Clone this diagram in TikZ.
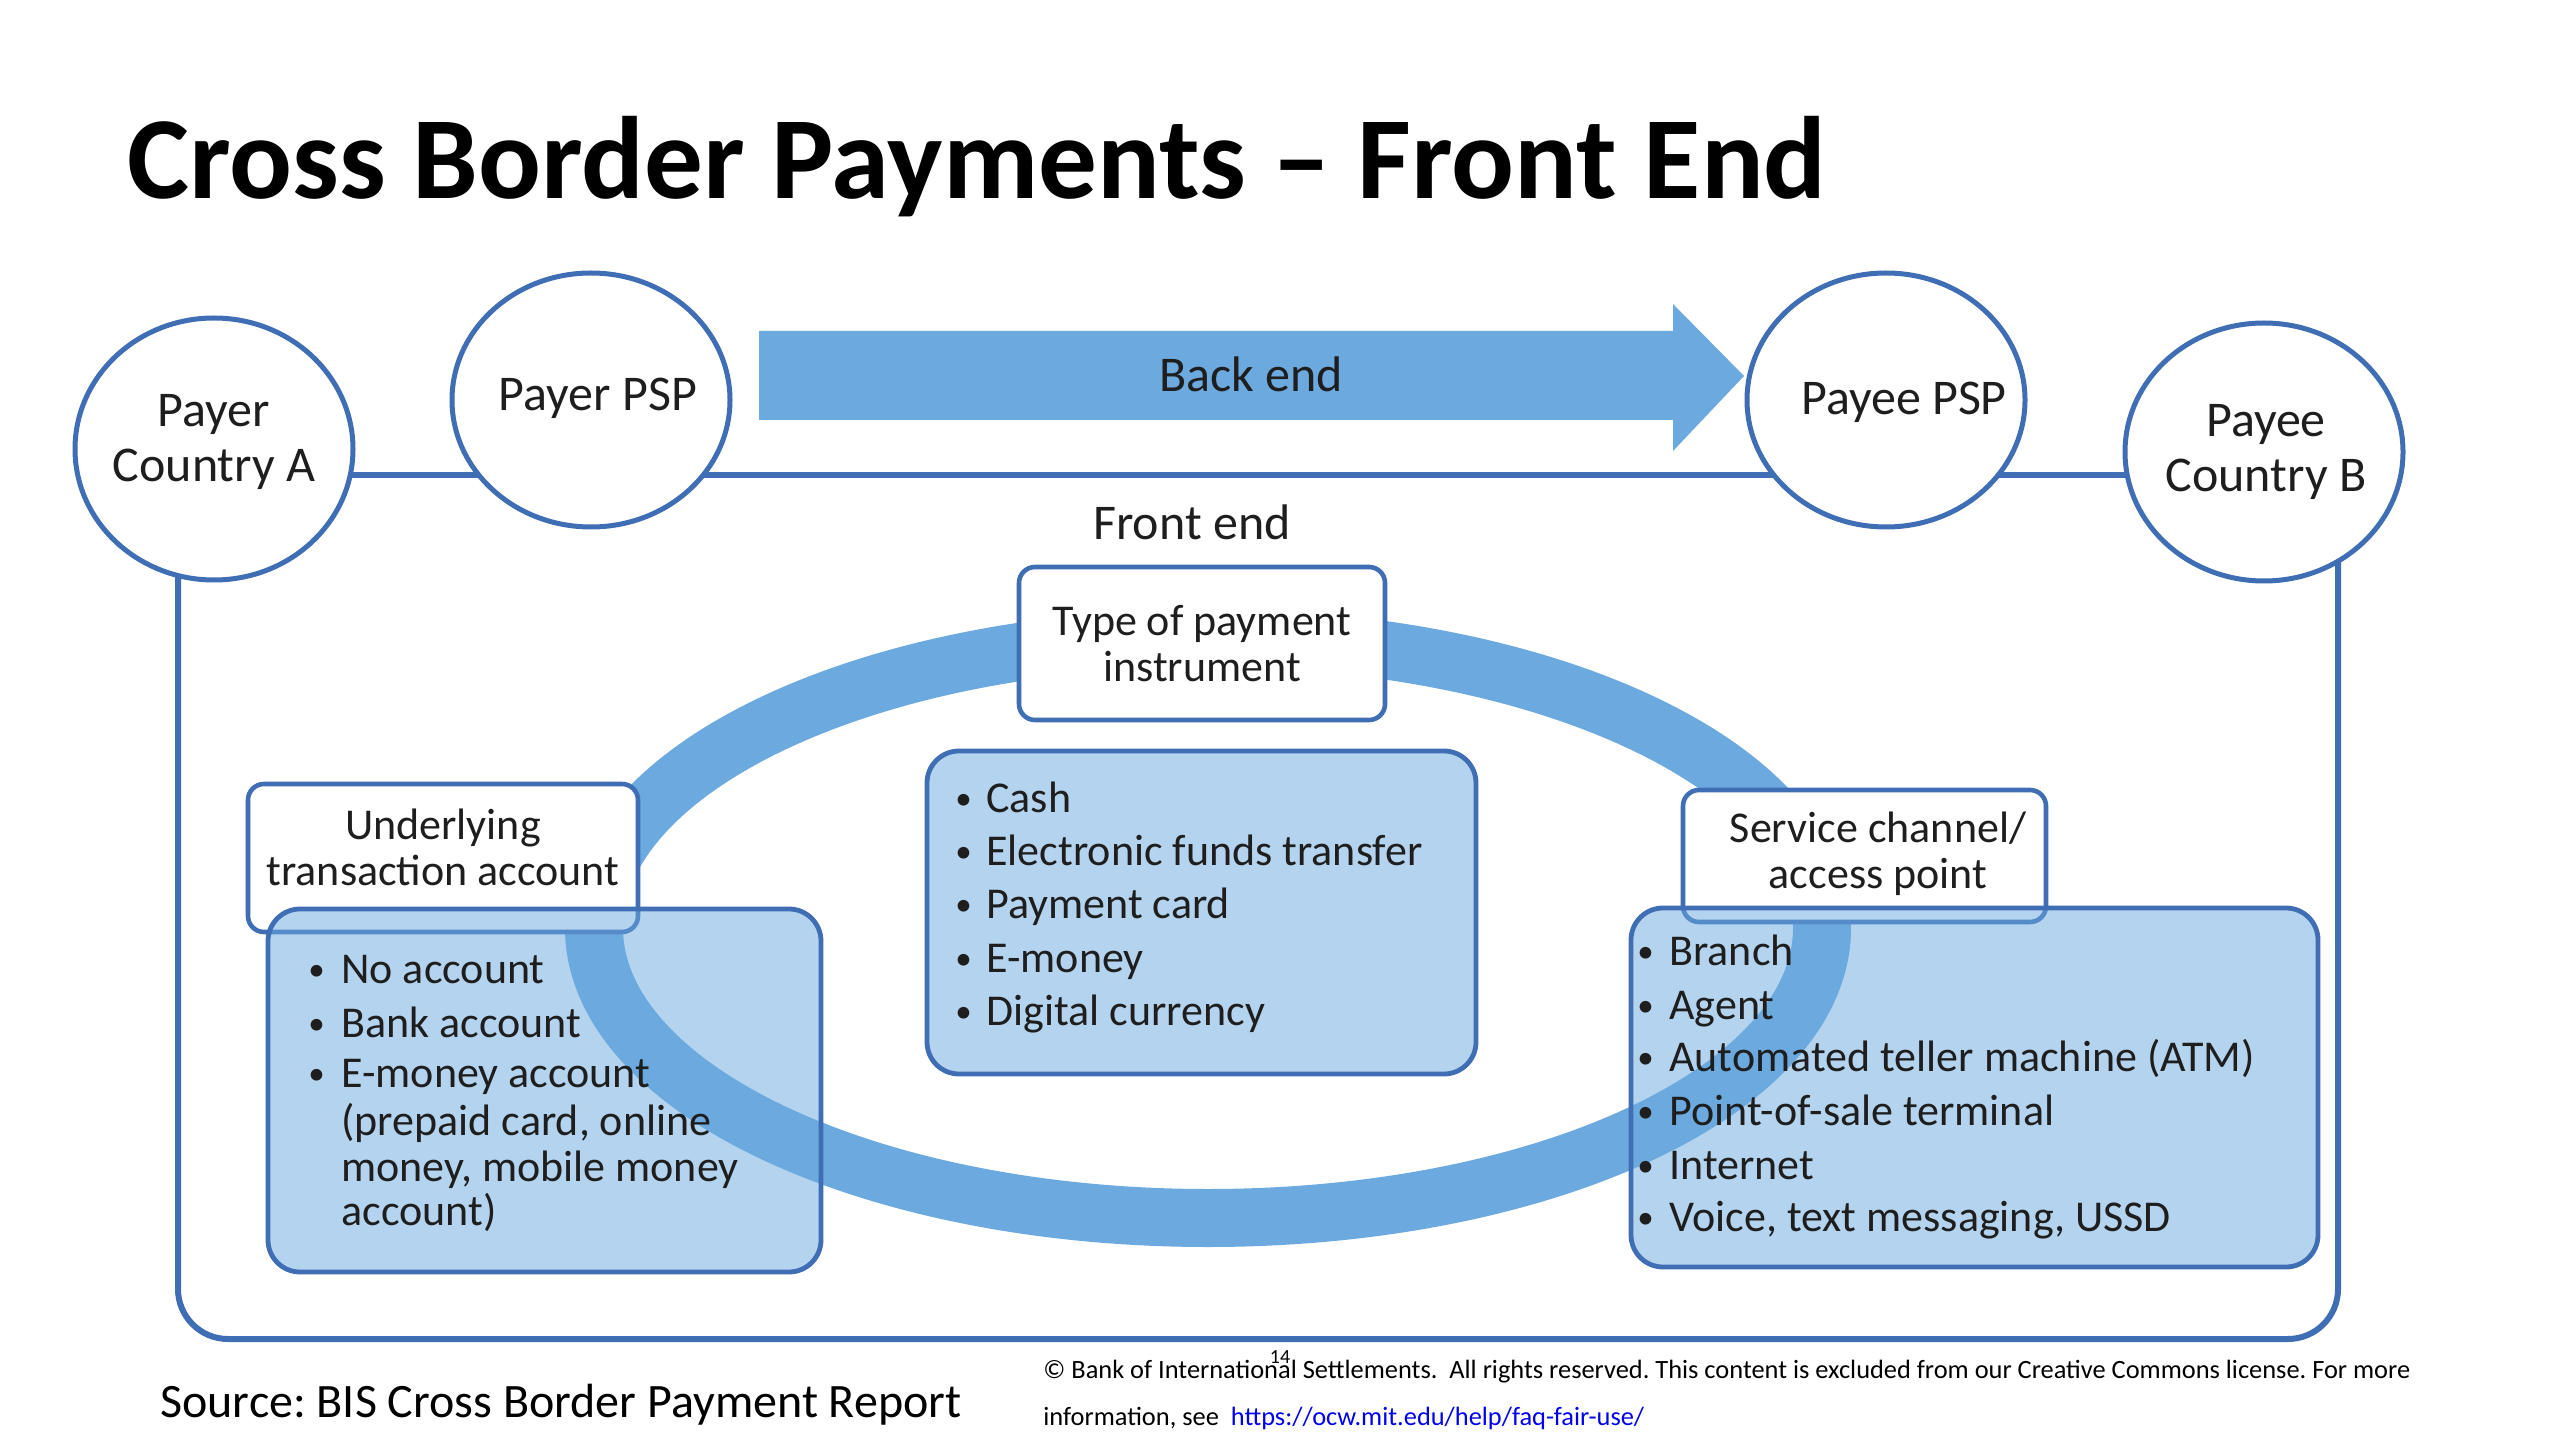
\documentclass[tikz,border=0pt]{standalone}
\usepackage{fontspec}
\setmainfont{Carlito}
\frenchspacing
\usetikzlibrary{shapes.geometric,backgrounds}
\definecolor{lineblue}{RGB}{64,110,180}
\definecolor{ringblue}{RGB}{107,169,223}
\definecolor{txt}{RGB}{30,30,30}
\definecolor{urlblue}{RGB}{0,0,238}
\newcommand{\listdot}[1]{\makebox[#1][l]{\raisebox{0.05em}{\scalebox{0.75}{\textbullet}}}}
\begin{document}
\begin{tikzpicture}[x=0.5pt,y=-0.5pt,
  party/.style={ellipse, draw=lineblue, line width=2.5pt, fill=white, inner sep=0pt},
  partytext/.style={text=txt, align=center, inner sep=0pt, font=\fontsize{25}{27.5}\selectfont},
  link/.style={draw=lineblue, line width=3pt},
  tagbox/.style={rectangle, rounded corners=8pt, draw=lineblue, line width=2.3pt, fill=white, inner sep=0pt},
  listbox/.style={rectangle, rounded corners=16pt, draw=lineblue, line width=2.4pt,
                  fill=ringblue, fill opacity=0.5, draw opacity=1, inner sep=0pt},
  tagtext/.style={text=txt, align=center, inner sep=0pt, font=\fontsize{22}{23}\selectfont},
  item/.style={text=txt, anchor=base west, inner sep=0pt, font=\fontsize{22}{26}\selectfont},
  note/.style={text=txt, anchor=base west, inner sep=0pt},
]
\useasboundingbox (0,0) rectangle (2560,1438);

% heading
\node[note, text=black, font=\fontsize{58.6}{58.6}\selectfont\bfseries] (title) at (127,199)
  {Cross Border Payments – Front End};

% thick ring of the front end
\draw[ringblue, line width=29pt] (1208,928) ellipse [x radius=614, y radius=290];

% parties
\node[party, minimum width=139pt, minimum height=131pt] (A) at (214,449) {};
\node[party, minimum width=139pt, minimum height=127pt] (PA) at (591,400) {};
\node[party, minimum width=139pt, minimum height=127pt] (PB) at (1886,400) {};
\node[party, minimum width=139pt, minimum height=129pt] (B) at (2264,452) {};
\node[partytext] (At) at (214,442) {Payer\\Country A};
\node[partytext] (PAt) at (598,398) {Payer PSP};
\node[partytext] (PBt) at (1904,402) {Payee PSP};
\node[partytext] (Bt) at (2266,452) {Payee\\Country B};

% white page, links and frame, all behind the parties
\coordinate (L) at (0,475);
\coordinate (FL) at (178,1339);
\coordinate (FR) at (2338,1339);
\begin{pgfonlayer}{background}
  \fill[white] (0,0) rectangle (2560,1438);
  \draw[link] (A.center |- L) -- (B.center |- L);
  \draw[link, rounded corners=25pt] (A.center -| FL) -- (FL) -- (FR) -- (B.center -| FR);
\end{pgfonlayer}

% back end arrow
\fill[ringblue] (759,331) -- (1673,331) -- (1673,304) -- (1744,376) -- (1673,451)
  -- (1673,420) -- (759,420) -- cycle;
\node[partytext] (back) at (1251,374) {Back end};
\node[partytext] (front) at (1192,522) {Front end};

% headings of the three groups
\node[tagbox, minimum width=183pt, minimum height=76.5pt] (typebox) at (1202,643.5) {};
\node[tagbox, minimum width=195pt, minimum height=74pt] (ulabel) at (443,858) {};
\node[tagbox, minimum width=181.5pt, minimum height=66pt] (slabel) at (1864.5,856) {};

% list panels
\node[listbox, minimum width=274.5pt, minimum height=161.5pt] (clist) at (1201.5,912.5) {};
\node[listbox, minimum width=276.5pt, minimum height=181.5pt] (llist) at (544.5,1090.5) {};
\node[listbox, minimum width=343.5pt, minimum height=179.5pt] (rlist) at (1974.5,1087.5) {};

\node[tagtext] (typet) at (1202,644) {Type of payment\\instrument};
\node[tagtext] (ulabelt) at (443,847) {Underlying\\transaction account};
\node[tagtext] (slabelt) at (1878,854) {Service channel/\\access point};

% list entries
\foreach \yy/\t [count=\i] in {812/Cash, 865/Electronic funds transfer, 918/Payment card,
    972/E-money, 1025/Digital currency}
  \node[item, name=c\i] at (955,\yy) {\listdot{15.5pt}\t};

\node[item] (l1) at (308,983) {\listdot{16.5pt}No account};
\node[item] (l2) at (308,1037) {\listdot{16.5pt}Bank account};
\node[item] (l3) at (308,1087) {\listdot{16.5pt}E-money account};
\node[item] (l4) at (308,1135) {\hspace*{16.5pt}(prepaid card, online};
\node[item] (l5) at (308,1181) {\hspace*{16.5pt}money, mobile money};
\node[item] (l6) at (308,1225) {\hspace*{16.5pt}account)};

\foreach \yy/\t [count=\i] in {965/Branch, 1019/Agent, 1071/Automated teller machine (ATM),
    1125/Point-of-sale terminal, 1179/Internet, {1231/Voice, text messaging, USSD}}
  \node[item, name=r\i] at (1637,\yy) {\listdot{16pt}\t};

% footer
\node[note, text=black, font=\fontsize{24}{24}\selectfont] (src) at (160,1417)
  {Source: BIS Cross Border Payment Report};
\node[note, text=black, font=\fontsize{13.2}{13.2}\selectfont] (copy1) at (1043,1378)
  {© Bank of International Settlements.\ \ All rights reserved. This content is excluded from our Creative Commons license. For more};
\node[note, text=black, font=\fontsize{13.2}{13.2}\selectfont] (copy2) at (1043,1425)
  {information, see\ \ \textcolor{urlblue}{https://ocw.mit.edu/help/faq-fair-use/}};
\node[note, text=black, anchor=base, font=\fontsize{10}{10}\selectfont] (page) at (1280,1363) {14};
\end{tikzpicture}
\end{document}
